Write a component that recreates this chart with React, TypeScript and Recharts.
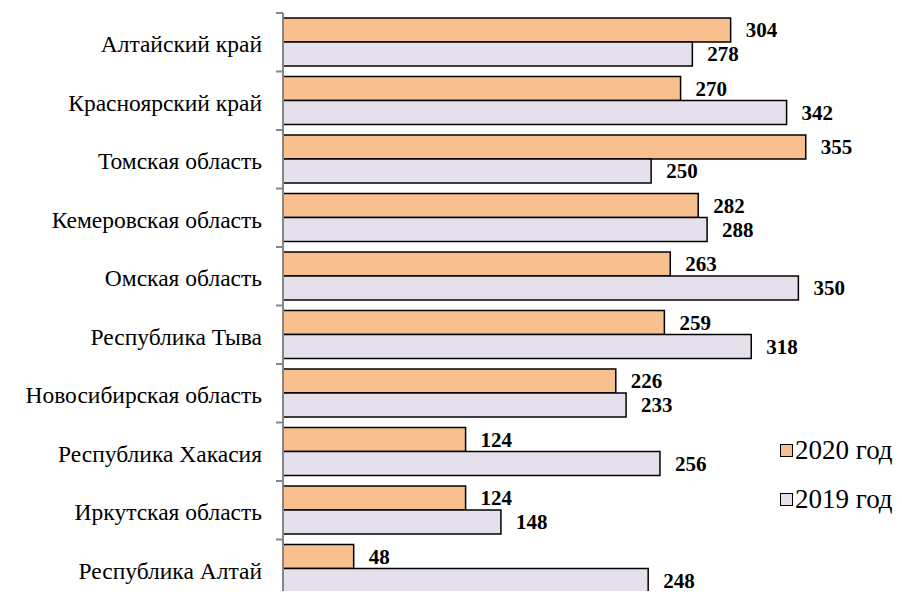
import { BarChart, Bar, XAxis, YAxis, LabelList } from "recharts";

const regions = [
  "Алтайский край",
  "Красноярский край",
  "Томская область",
  "Кемеровская область",
  "Омская область",
  "Республика Тыва",
  "Новосибирская область",
  "Республика Хакасия",
  "Иркутская область",
  "Республика Алтай",
];
const values2020 = [304, 270, 355, 282, 263, 259, 226, 124, 124, 48];
const values2019 = [278, 342, 250, 288, 350, 318, 233, 256, 148, 248];

const data = regions.map((region, i) => ({
  region,
  y2020: values2020[i],
  y2019: values2019[i],
}));

const font = "'Times New Roman', 'Liberation Serif', Tinos, 'DejaVu Serif', serif";
const orange = "#F9C08F";
const lavender = "#E5E0EC";

const legendItems = [
  { name: "2020 год", color: orange, top: 435 },
  { name: "2019 год", color: lavender, top: 484 },
];

// category label + small tick at the band boundary
const RegionTick = (props: any) => {
  const { x, y, payload, index, visibleTicksCount } = props;
  const half = payload.offset || 0;
  const axisX = x + 21;
  return (
    <g>
      <line x1={axisX - 7} x2={axisX} y1={y - half} y2={y - half} stroke="#868686" strokeWidth={2} />
      {index === visibleTicksCount - 1 && (
        <line x1={axisX - 7} x2={axisX} y1={y + half} y2={y + half} stroke="#868686" strokeWidth={2} />
      )}
      <text x={x} y={y} dy="0.42em" textAnchor="end" fill="#000" fontSize={23.5} fontFamily={font}>
        {payload.value}
      </text>
    </g>
  );
};

const labelStyle = { fill: "#000", fontSize: 21, fontWeight: "bold" as const, fontFamily: font };

const App = () => {
  return (
    <div style={{ position: "relative", margin: -8, width: 902, height: 599, background: "#fff" }}>
      <BarChart
        width={902}
        height={599}
        data={data}
        layout="vertical"
        margin={{ top: 13, right: 30, bottom: 1, left: 0 }}
        barGap={0}
        barSize={24}
      >
        <XAxis type="number" domain={[0, 400]} hide />
        <YAxis
          type="category"
          dataKey="region"
          width={283}
          axisLine={{ stroke: "#868686", strokeWidth: 2 }}
          tickLine={false}
          tick={<RegionTick />}
          tickMargin={15}
          interval={0}
        />
        <Bar dataKey="y2020" fill={orange} stroke="#000" strokeWidth={1.5} isAnimationActive={false}>
          <LabelList dataKey="y2020" position="right" offset={15} style={labelStyle} />
        </Bar>
        <Bar dataKey="y2019" fill={lavender} stroke="#000" strokeWidth={1.5} isAnimationActive={false}>
          <LabelList dataKey="y2019" position="right" offset={15} style={labelStyle} />
        </Bar>
      </BarChart>
      {legendItems.map((item) => (
        <div
          key={item.name}
          style={{
            position: "absolute",
            left: 780,
            top: item.top,
            display: "flex",
            alignItems: "center",
            fontFamily: font,
            fontSize: 27,
            lineHeight: "30px",
            color: "#000",
          }}
        >
          <span
            style={{
              display: "inline-block",
              width: 11,
              height: 11,
              background: item.color,
              border: "1px solid #000",
              marginRight: 2,
            }}
          />
          {item.name}
        </div>
      ))}
    </div>
  );
};

export default App;
